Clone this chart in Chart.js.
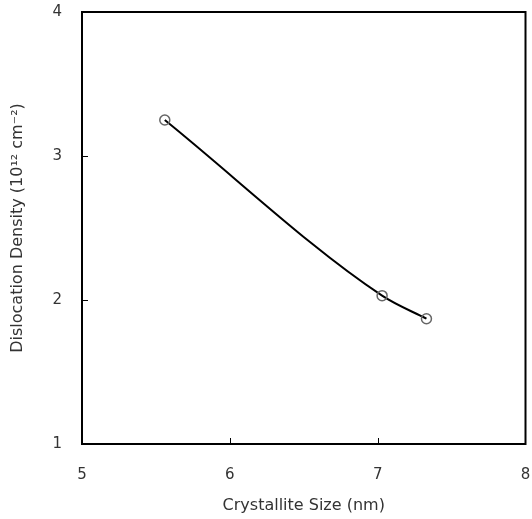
<!DOCTYPE html>
<html>
<head>
<meta charset="utf-8">
<script src="https://cdn.jsdelivr.net/npm/chart.js@4"></script>
<style>
  html, body { margin: 0; padding: 0; background: #fff; }
  #wrap { width: 532px; height: 519px; }
</style>
</head>
<body>
<div id="wrap"><canvas id="chart" width="532" height="519"></canvas></div>
<script>
// values
const crystalliteSize = [5.56, 7.03, 7.33];
const dislocationDensity = [3.25, 2.03, 1.87];
const xTicks = [5, 6, 7, 8];
const yTicks = [1, 2, 3, 4];

const FONT = '"DejaVu Sans", sans-serif';

// frame round the plot area plus small inward ticks
const framePlugin = {
    id: 'frame',
    afterDraw(chart) {
        const { ctx, chartArea: a, scales } = chart;
        ctx.save();
        ctx.strokeStyle = '#000';
        ctx.lineWidth = 1;
        xTicks.slice(1, -1).forEach(v => {
            const px = Math.round(scales.x.getPixelForValue(v)) + 0.5;
            ctx.beginPath();
            ctx.moveTo(px, a.bottom);
            ctx.lineTo(px, a.bottom - 6);
            ctx.stroke();
        });
        yTicks.slice(1, -1).forEach(v => {
            const py = Math.round(scales.y.getPixelForValue(v)) + 0.5;
            ctx.beginPath();
            ctx.moveTo(a.left, py);
            ctx.lineTo(a.left + 6, py);
            ctx.stroke();
        });
        ctx.lineWidth = 2;
        ctx.strokeRect(a.left, a.top, a.right - a.left, a.bottom - a.top);
        ctx.restore();
    }
};

new Chart(document.getElementById('chart'), {
    type: 'scatter',
    data: {
        datasets: [{
            data: crystalliteSize.map((x, i) => ({ x: x, y: dislocationDensity[i] })),
            showLine: true,
            cubicInterpolationMode: 'monotone',
            borderColor: '#000',
            borderWidth: 2,
            pointStyle: 'circle',
            pointRadius: 5,
            pointBorderWidth: 1.5,
            pointBorderColor: '#666',
            pointBackgroundColor: 'rgba(0,0,0,0)'
        }]
    },
    options: {
        responsive: false,
        animation: false,
        layout: { padding: { top: 12, right: 3, left: 0, bottom: 0 } },
        plugins: {
            legend: { display: false },
            tooltip: { enabled: false }
        },
        scales: {
            x: {
                type: 'linear',
                min: 5,
                max: 8,
                afterBuildTicks: s => { s.ticks = xTicks.map(v => ({ value: v })); },
                afterFit: s => { s.height = 75; s.paddingLeft = 0; s.paddingRight = 0; },
                grid: { display: false, drawTicks: false },
                border: { display: false },
                ticks: { padding: 22, color: '#333', font: { family: FONT, size: 15 } },
                title: {
                    display: true,
                    text: 'Crystallite Size (nm)',
                    color: '#333',
                    font: { family: FONT, size: 16 },
                    padding: { top: 4 }
                }
            },
            y: {
                type: 'linear',
                min: 1,
                max: 4,
                afterBuildTicks: s => { s.ticks = yTicks.map(v => ({ value: v })); },
                afterFit: s => { s.width = 82; s.paddingTop = 0; s.paddingBottom = 0; },
                grid: { display: false, drawTicks: false },
                border: { display: false },
                ticks: { padding: 20, color: '#333', font: { family: FONT, size: 15 } },
                title: {
                    display: true,
                    text: 'Dislocation Density (10¹² cm⁻²)',
                    color: '#333',
                    font: { family: FONT, size: 16 },
                    padding: { top: 8, bottom: 0 }
                }
            }
        }
    },
    plugins: [framePlugin]
});
</script>
</body>
</html>
